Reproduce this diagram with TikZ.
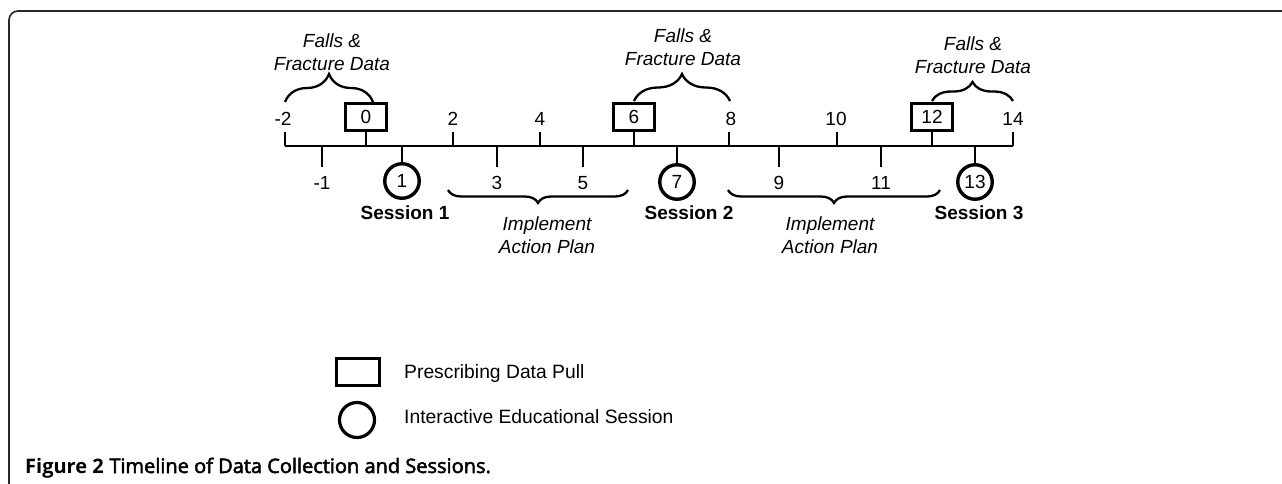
\documentclass[tikz,border=0pt]{standalone}
\usepackage{fontspec}
\setmainfont{Liberation Sans}
\newfontfamily\capfont{Open Sans}
\newfontface\capsemi[FakeBold=2.5]{Open Sans}
\usetikzlibrary{decorations.pathreplacing}
\begin{document}
\begin{tikzpicture}[x=1pt,y=-1pt,
  lbl/.style={font=\fontsize{19}{21}\selectfont, inner sep=0pt},
  ital/.style={font=\fontsize{19}{23}\selectfont\itshape, align=center, inner sep=0pt},
  sess/.style={font=\fontsize{19}{21}\selectfont\bfseries, inner sep=0pt},
  legtext/.style={font=\fontsize{19.3}{21}\selectfont, inner sep=0pt, anchor=west},
  pbox/.style={draw, line width=3.4pt, minimum width=41pt, minimum height=27.5pt, inner sep=0pt, font=\fontsize{19}{21}\selectfont},
  pcirc/.style={draw, circle, line width=3.4pt, minimum size=34.5pt, inner sep=0pt, font=\fontsize{19}{21}\selectfont},
  tick/.style={line width=1.7pt},
  axisline/.style={line width=2pt},
  brc/.style={decorate, decoration={brace, amplitude=#1}, line width=2.3pt},
  frame/.style={line width=1.6pt, draw=black!85, rounded corners=9pt},
]
\useasboundingbox (0,0) rectangle (1282,483);
% frame
\coordinate (fb) at (9,490);
\coordinate (fc) at (9,11);
\coordinate (fr) at (1290,11);
\draw[frame] (fb) -- (fc) -- (fr);

% axis
\coordinate (L) at (285,146);
\coordinate (R) at (1013,146);
\draw[axisline] (L) -- (R);

% even ticks with plain labels
\foreach \n/\x in {m2/285, 2/453, 4/540, 8/729, 10/837, 14/1013}{
  \coordinate (a\n) at (\x,146);
  \coordinate (t\n) at (\x,132);
  \draw[tick] (a\n) -- (t\n);
}
\node[lbl] (lm2) at (283,119) {-2};
\node[lbl] (l2) at (453,119) {2};
\node[lbl] (l4) at (540,119) {4};
\node[lbl] (l8) at (731,119) {8};
\node[lbl] (l10) at (836,119) {10};
\node[lbl] (l14) at (1013,119) {14};

% boxes
\node[pbox] (b0) at (366,117) {0};
\node[pbox] (b6) at (634,117) {6};
\node[pbox] (b12) at (932,117) {12};
\foreach \b in {b0,b6,b12}{
  \draw[tick] (\b.south) -- (\b.south |- L);
}

% odd ticks with plain labels
\foreach \n/\x in {m1/322, 3/497, 5/583, 9/779, 11/881}{
  \coordinate (a\n) at (\x,146);
  \coordinate (t\n) at (\x,167);
  \draw[tick] (a\n) -- (t\n);
}
\node[lbl] (lm1) at (322,183) {-1};
\node[lbl] (l3) at (497,183) {3};
\node[lbl] (l5) at (583,183) {5};
\node[lbl] (l9) at (779,183) {9};
\node[lbl] (l11) at (881,183) {11};

% circles
\node[pcirc] (c1) at (402,181) {1};
\node[pcirc] (c7) at (677,182) {7};
\node[pcirc] (c13) at (975,182) {13};
\foreach \c in {c1,c7,c13}{
  \draw[tick] (\c.north) -- (\c.north |- L);
}

% session labels
\node[sess] (s1) at (405,213) {Session 1};
\node[sess] (s2) at (689,213) {Session 2};
\node[sess] (s3) at (979,213) {Session 3};

% upper braces
\coordinate (u1a) at (285,102); \coordinate (u1b) at (373,102);
\coordinate (u2a) at (634,101); \coordinate (u2b) at (730,101);
\coordinate (u3a) at (932,101); \coordinate (u3b) at (1013,101);
\draw[brc=28pt] (u1a) -- (u1b);
\draw[brc=27pt] (u2a) -- (u2b);
\draw[brc=19pt] (u3a) -- (u3b);
\node[ital] (f1) at (332,52) {Falls \&\\Fracture Data};
\node[ital] (f2) at (683,47) {Falls \&\\Fracture Data};
\node[ital] (f3) at (973,55) {Falls \&\\Fracture Data};

% lower braces
\coordinate (d1a) at (448,190); \coordinate (d1b) at (628,190);
\coordinate (d2a) at (728,190); \coordinate (d2b) at (940,190);
\draw[brc=13pt] (d1b) -- (d1a);
\draw[brc=13pt] (d2b) -- (d2a);
\node[ital] (i1) at (547,235) {Implement\\Action Plan};
\node[ital] (i2) at (830,235) {Implement\\Action Plan};

% legend
\node[draw, line width=3.2pt, minimum width=43.5pt, minimum height=26.5pt, inner sep=0pt] (lb) at (358,372) {};
\node[draw, circle, line width=3.2pt, minimum size=35pt, inner sep=0pt] (lc) at (357,420) {};
\node[legtext] (lbt) at (404,374) {Prescribing Data Pull};
\node[legtext] (lct) at (404,417) {Interactive Educational Session};

% caption
\node[font=\fontsize{20}{22}\selectfont, anchor=base west, inner sep=0pt] (cap) at (25,473) {{\capfont\bfseries Figure 2} {\capsemi Timeline of Data Collection and Sessions.}};
\end{tikzpicture}
\end{document}
